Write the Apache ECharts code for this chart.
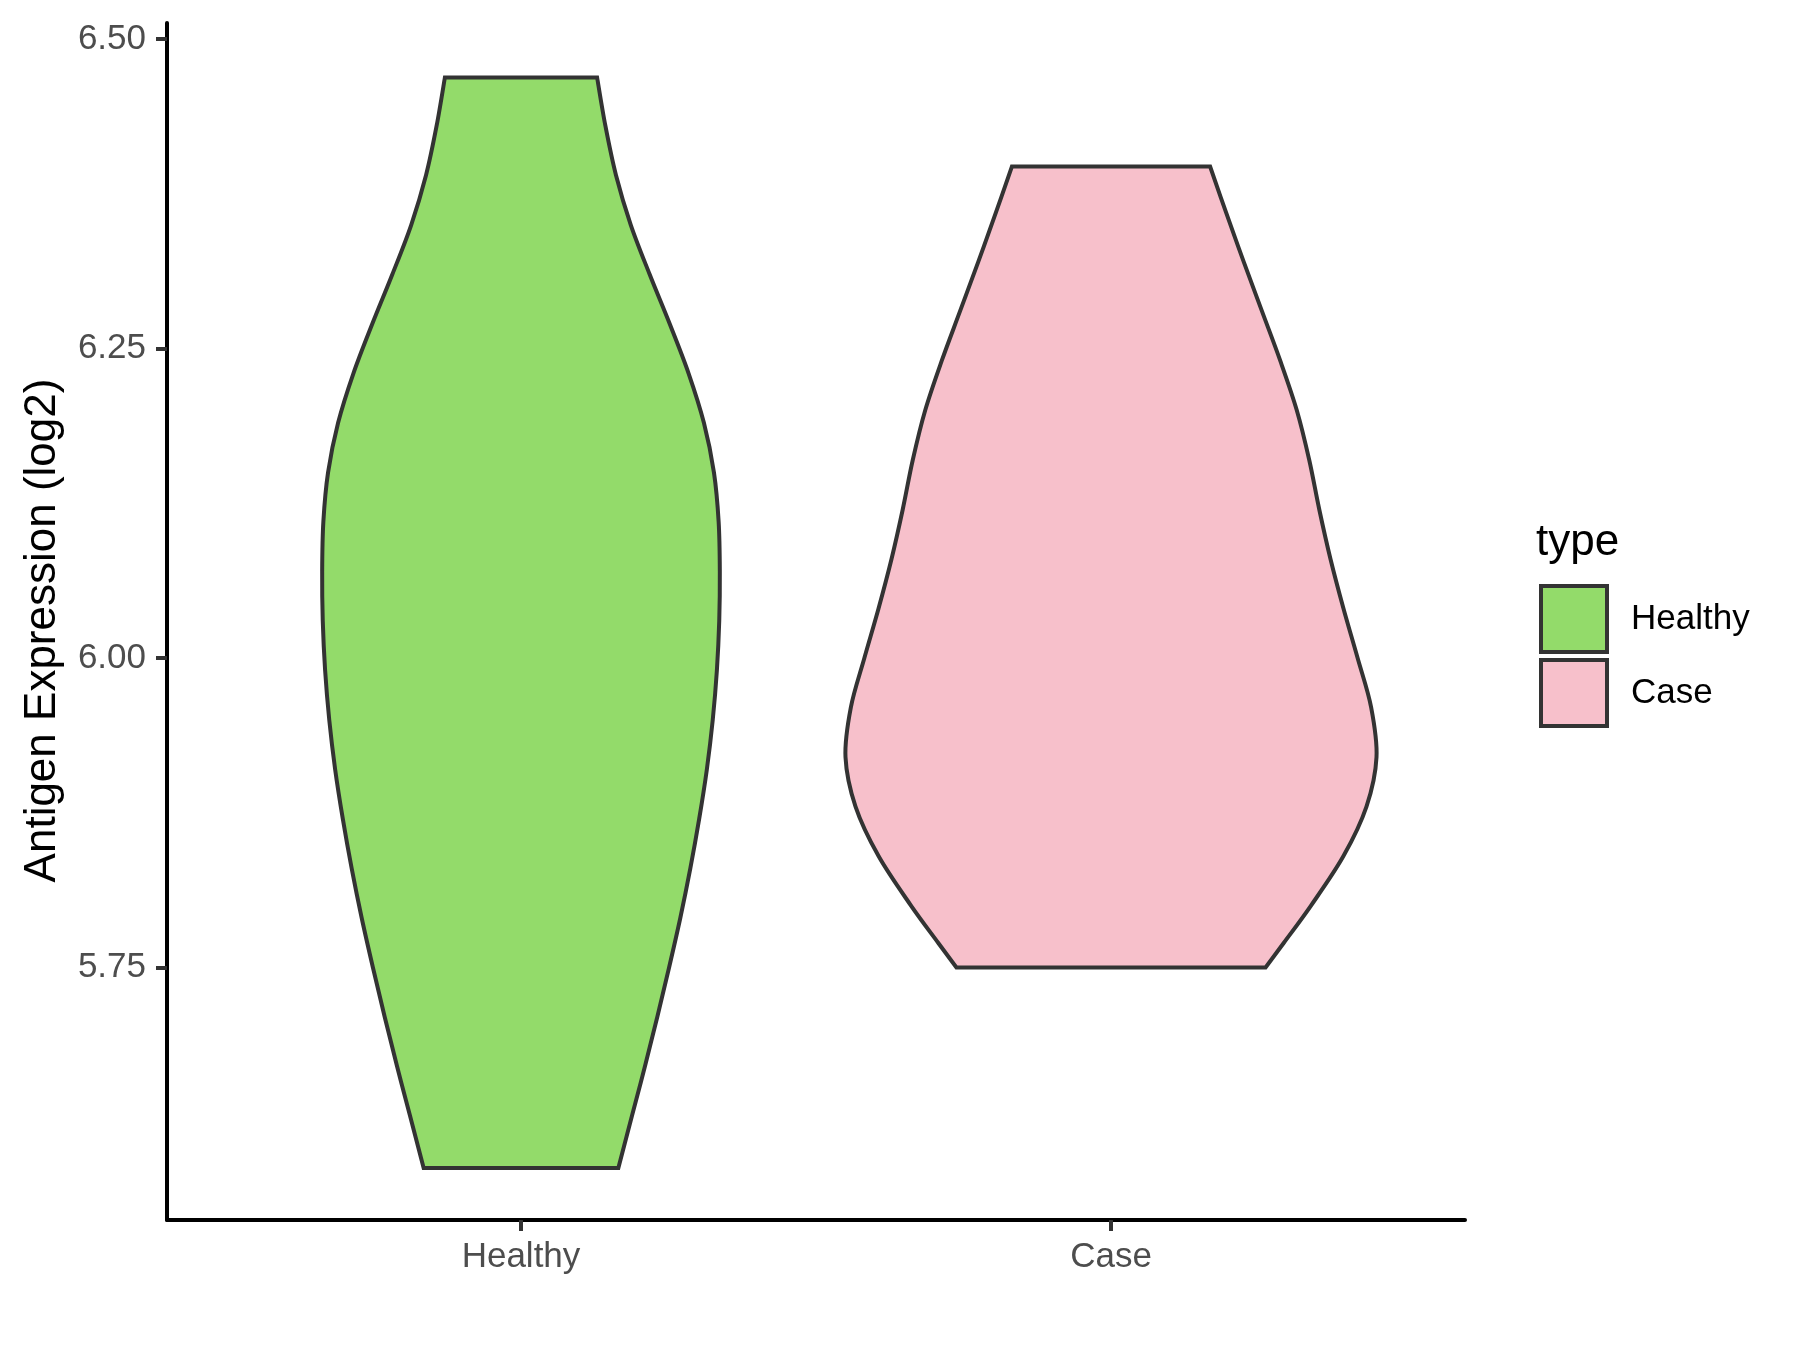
<!DOCTYPE html>
<html>
<head>
<meta charset="utf-8">
<script src="https://cdn.jsdelivr.net/npm/echarts@6/dist/echarts.min.js"></script>
<style>
html, body { margin: 0; padding: 0; background: #fff; }
#chart { width: 1800px; height: 1350px; }
</style>
</head>
<body>
<div id="chart"></div>
<script>
const categories = ['Healthy', 'Case']
const yTicks = [5.75, 6.00, 6.25, 6.50]

// violin outlines: expression value and half width (category units)
const healthyValues = [6.469, 6.43, 6.39, 6.35, 6.31, 6.27, 6.23, 6.19, 6.15, 6.11, 6.07, 6.03,
  5.99, 5.95, 5.91, 5.87, 5.83, 5.79, 5.75, 5.71, 5.67, 5.63, 5.588]
const healthyHalfWidth = [0.129, 0.143, 0.161, 0.186, 0.218, 0.252, 0.284, 0.310, 0.327, 0.335, 0.337, 0.336,
  0.332, 0.325, 0.315, 0.302, 0.287, 0.270, 0.251, 0.231, 0.210, 0.188, 0.165]

const caseValues = [6.397, 6.36, 6.32, 6.28, 6.24, 6.20, 6.16, 6.12, 6.08, 6.04, 6.00,
  5.96, 5.92, 5.88, 5.84, 5.80, 5.77, 5.75]
const caseHalfWidth = [0.168, 0.195, 0.225, 0.256, 0.287, 0.315, 0.336, 0.353, 0.372, 0.394, 0.418,
  0.441, 0.450, 0.433, 0.394, 0.339, 0.293, 0.262]

const colors = ['#93DB6A', '#F7C0CB']
const FONT = 'Liberation Sans, Arial, sans-serif'

// smooth curve through pixel points (catmull-rom as cubic beziers)
function spline(p) {
  let s = ''
  for (let i = 0; i < p.length - 1; i++) {
    const p0 = p[Math.max(i - 1, 0)]
    const p1 = p[i]
    const p2 = p[i + 1]
    const p3 = p[Math.min(i + 2, p.length - 1)]
    const c1 = [p1[0] + (p2[0] - p0[0]) / 6, p1[1] + (p2[1] - p0[1]) / 6]
    const c2 = [p2[0] - (p3[0] - p1[0]) / 6, p2[1] - (p3[1] - p1[1]) / 6]
    s += ' C' + c1.join(' ') + ' ' + c2.join(' ') + ' ' + p2.join(' ')
  }
  return s
}

function violinPath(center, values, halfWidth, api) {
  const left = values.map((v, i) => api.coord([center - halfWidth[i], v]))
  const right = values.map((v, i) => api.coord([center + halfWidth[i], v])).reverse()
  return 'M' + left[0].join(' ') + spline(left) +
    ' L' + right[0].join(' ') + spline(right) + ' Z'
}

function violinSeries(name, center, values, halfWidth, color) {
  return {
    name: name,
    type: 'custom',
    coordinateSystem: 'cartesian2d',
    data: [[center, values[0]]],
    encode: { x: 0, y: 1 },
    itemStyle: { color: color },
    renderItem: function(params, api) {
      return {
        type: 'path',
        shape: { pathData: violinPath(center, values, halfWidth, api) },
        style: { fill: color, stroke: '#333333', lineWidth: 4 }
      }
    }
  }
}

const chart = echarts.init(document.getElementById('chart'))
chart.setOption({
  backgroundColor: '#ffffff',
  animation: false,
  title: {
    text: 'type',
    left: 1531,
    top: 516,
    textStyle: { fontSize: 44, fontWeight: 'normal', color: '#000', fontFamily: FONT }
  },
  legend: {
    data: categories,
    orient: 'vertical',
    left: 1534,
    top: 579,
    icon: 'rect',
    itemWidth: 66,
    itemHeight: 66,
    itemGap: 4,
    itemStyle: { borderColor: '#333333', borderWidth: 4 },
    textStyle: { fontSize: 35, color: '#000', fontFamily: FONT, padding: [0, 0, 0, 19] }
  },
  grid: {
    left: 167,
    top: 23,
    right: 335,
    bottom: 130,
    containLabel: false,
    outerBoundsMode: 'none'
  },
  xAxis: {
    type: 'value',
    min: 0.4,
    max: 2.6,
    splitLine: { show: false },
    axisLine: { show: true, onZero: false, lineStyle: { color: '#000', width: 4 } },
    axisTick: { show: true, customValues: [1, 2], length: 11, lineStyle: { color: '#333333', width: 4 } },
    axisLabel: {
      customValues: [1, 2],
      formatter: v => categories[Math.round(v) - 1],
      fontSize: 35,
      color: '#4D4D4D',
      fontFamily: FONT,
      margin: 20
    }
  },
  yAxis: {
    type: 'value',
    min: 5.546,
    max: 6.513,
    name: 'Antigen Expression (log2)',
    nameLocation: 'middle',
    nameGap: 102,
    nameTextStyle: { fontSize: 44, color: '#000', fontFamily: FONT, padding: [0, 18, 0, 0] },
    splitLine: { show: false },
    axisLine: { show: true, onZero: false, lineStyle: { color: '#000', width: 4 } },
    axisTick: { show: true, customValues: yTicks, length: 11, lineStyle: { color: '#333333', width: 4 } },
    axisLabel: {
      customValues: yTicks,
      formatter: v => v.toFixed(2),
      fontSize: 35,
      color: '#4D4D4D',
      fontFamily: FONT,
      margin: 21
    }
  },
  series: [
    violinSeries(categories[0], 1, healthyValues, healthyHalfWidth, colors[0]),
    violinSeries(categories[1], 2, caseValues, caseHalfWidth, colors[1])
  ]
})
window.addEventListener('resize', function() {
  chart.resize()
})
</script>
</body>
</html>
